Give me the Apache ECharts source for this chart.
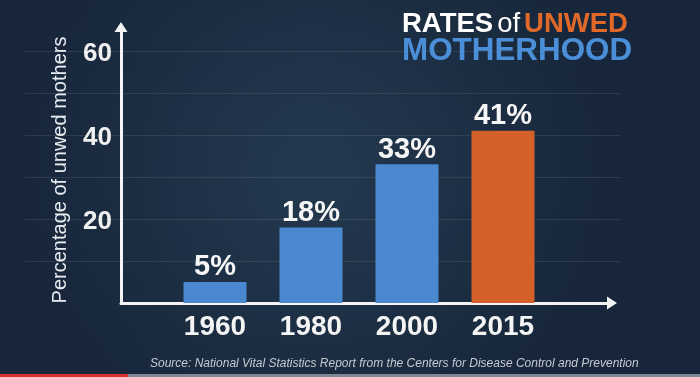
<!DOCTYPE html>
<html lang="en">
<head>
    <meta charset="UTF-8">
    <title>Rates of unwed motherhood</title>
    <style>
        html, body { margin: 0; padding: 0; }
        #chart1 { width: 700px; height: 377px; }
    </style>
</head>
<body>
<script src="https://cdn.jsdelivr.net/npm/echarts@6/dist/echarts.min.js"></script>
<div id="chart1"></div>
<script type="text/javascript">
    // data
    var years = ['1960', '1980', '2000', '2015'];
    var rates = [5, 18, 33, 41];
    var barColors = ['#4a89cf', '#4a89cf', '#4a89cf', '#d4612a'];
    var yTickLabels = [20, 40, 60];

    var yMax = 65.7;   // top of the arrow line
    var font = '"Liberation Sans", Arial, sans-serif';

    var myChart1 = echarts.init(document.getElementById('chart1'));

    myChart1.setOption({
        backgroundColor: {
            type: 'radial', x: 0.45, y: 0.45, r: 0.8,
            colorStops: [{offset: 0, color: '#24394f'}, {offset: 1, color: '#17263a'}]
        },
        animation: false,
        title: {
            left: 402, top: 11, padding: 0,
            text: '{a|RATES}{b|of}{c|UNWED}\n{d|MOTHERHOOD}',
            textStyle: {
                rich: {
                    a: {fontFamily: font, fontWeight: 'bold', fontSize: 27.5, color: '#ffffff', lineHeight: 27, padding: [0, 4, 0, 0]},
                    b: {fontFamily: font, fontWeight: 'normal', fontSize: 27.5, color: '#ffffff', lineHeight: 27, padding: [0, 4, 0, 0]},
                    c: {fontFamily: font, fontWeight: 'bold', fontSize: 27.5, color: '#e0692a', lineHeight: 27},
                    d: {fontFamily: font, fontWeight: 'bold', fontSize: 31.4, color: '#4a8fd8', lineHeight: 27}
                }
            }
        },
        grid: [
            // axes frame with arrows
            {left: 121, right: 88, top: 27, bottom: 74},
            // bars
            {left: 167, right: 149, top: 27, bottom: 74},
            // faint gridlines
            {left: 25, right: 80, top: 27, bottom: 74}
        ],
        xAxis: [
            {
                gridIndex: 0, type: 'value', min: 0, max: 1,
                axisLine: {show: true, symbol: ['none', 'triangle'], symbolSize: [13, 10],
                    lineStyle: {color: '#f4f4f4', width: 3}},
                axisTick: {show: false}, axisLabel: {show: false}, splitLine: {show: false}
            },
            {
                gridIndex: 1, type: 'category', data: years,
                axisLine: {show: false}, axisTick: {show: false},
                axisLabel: {color: '#f4f4f4', fontFamily: font, fontWeight: 'bold', fontSize: 28, margin: 10}
            },
            {
                gridIndex: 2, type: 'value', min: 0, max: 1, show: false
            }
        ],
        yAxis: [
            {
                gridIndex: 0, type: 'value', min: 0, max: yMax, interval: 10,
                axisLine: {show: true, symbol: ['none', 'triangle'], symbolSize: [13, 10],
                    lineStyle: {color: '#f4f4f4', width: 3}},
                axisTick: {show: false},
                splitLine: {show: false},
                axisLabel: {
                    color: '#f0f0f0', fontFamily: font, fontWeight: 'bold', fontSize: 26, margin: 9,
                    lineHeight: 32, verticalAlign: 'top', padding: [-13, 0, 0, 0],
                    formatter: function (v) { return yTickLabels.indexOf(v) >= 0 ? String(v) : ''; }
                },
                name: 'Percentage of unwed mothers',
                nameLocation: 'middle', nameRotate: 90, nameGap: 51,
                nameTextStyle: {color: '#e8ecf0', fontFamily: font, fontSize: 20, padding: [0, 10, 0, 0]}
            },
            {
                gridIndex: 1, type: 'value', min: 0, max: yMax, show: false
            },
            {
                gridIndex: 2, type: 'value', min: 0, max: yMax, interval: 10,
                axisLine: {show: false}, axisTick: {show: false}, axisLabel: {show: false},
                splitLine: {show: true, showMinLine: false, showMaxLine: false,
                    lineStyle: {color: 'rgba(255,255,255,0.09)', width: 1}}
            }
        ],
        series: [{
            name: 'Rate',
            type: 'bar',
            xAxisIndex: 1,
            yAxisIndex: 1,
            barWidth: 63,
            data: rates.map(function (v, i) {
                return {value: v, itemStyle: {color: barColors[i]}};
            }),
            label: {
                show: true, position: 'top', distance: 0,
                formatter: '{c}%',
                color: '#f6f6f6', fontFamily: font, fontWeight: 'bold', fontSize: 29
            }
        }],
        graphic: [
            {
                type: 'text', left: 150, top: 358,
                style: {
                    text: 'Source: National Vital Statistics Report from the Centers for Disease Control and Prevention',
                    font: 'italic 12px ' + font,
                    fill: '#c5cbd3'
                }
            },
            {type: 'rect', left: 0, top: 374, shape: {width: 128, height: 3}, style: {fill: '#d8322a'}},
            {type: 'rect', left: 128, top: 374, shape: {width: 572, height: 3}, style: {fill: '#7d8894'}}
        ]
    });
</script>
</body>
</html>
